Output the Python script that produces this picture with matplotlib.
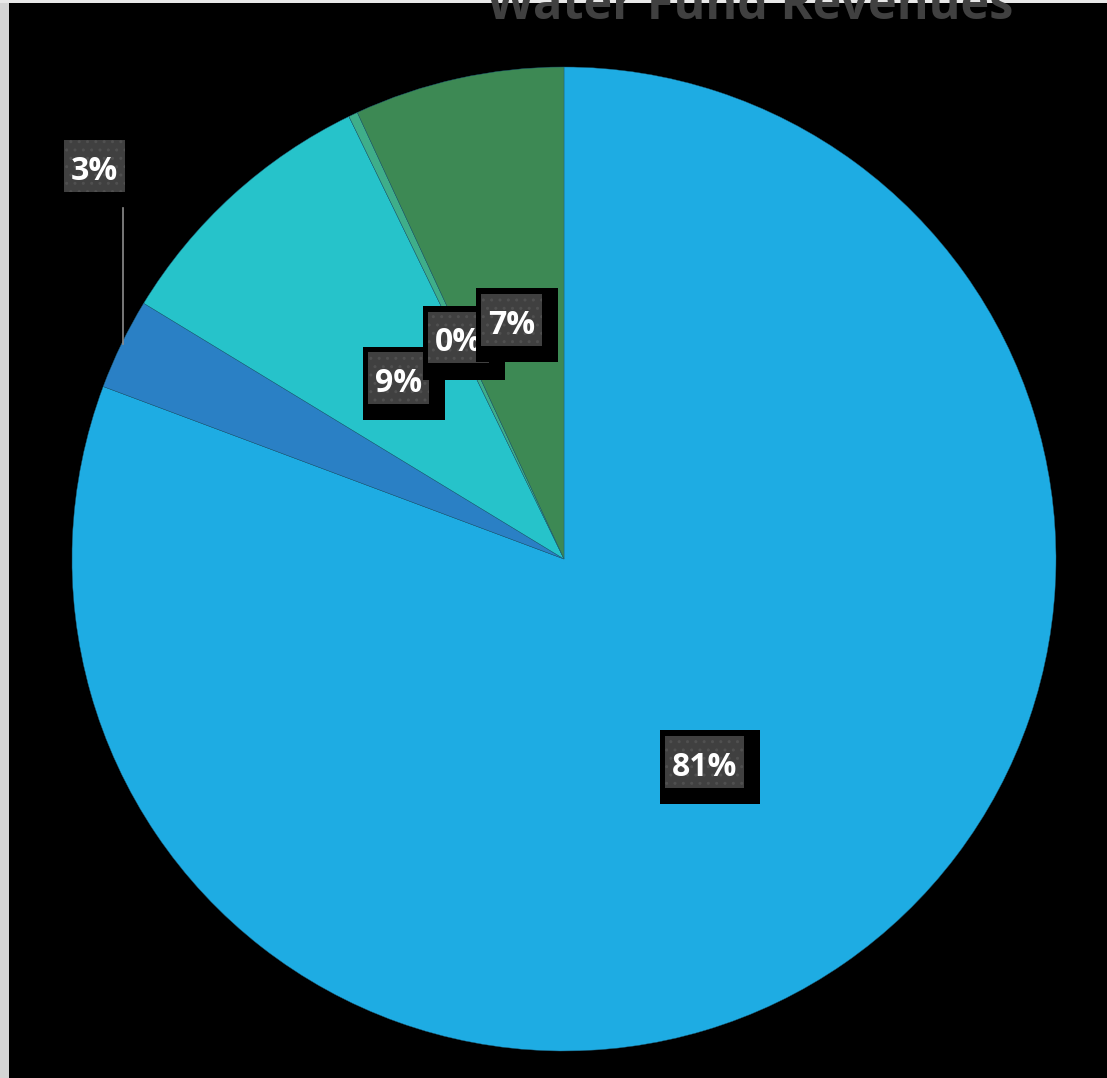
import matplotlib.pyplot as plt
from matplotlib.patches import Rectangle

# 收入构成（份额，%）
categories = ["Water Sales", "Connection Fees", "Other Charges", "Interest", "Transfers"]
shares = [80.7, 3.0, 9.1, 0.3, 6.9]
colors = ["#1eace3", "#2a80c5", "#26c3ca", "#3fae8a", "#3d8954"]
labels = [f"{round(s):d}%" for s in shares]

TITLE = "Water Fund Revenues"

# 画布按像素坐标布置（y 轴向上）
W, H = 1107, 1078
CENTER = (564, H - 559)
RADIUS = 492

# 标签框: (灰框 x0, y0_top, w, h), 黑色底框 (x0, y0_top, w, h) —— 像素坐标，y 自上而下
label_boxes = [
    ((665, 736, 79, 52), (660, 730, 100, 74)),
    ((64, 140, 61, 52), None),
    ((368, 352, 61, 52), (363, 347, 82, 73)),
    ((428, 312, 61, 51), (423, 306, 82, 74)),
    ((481, 294, 61, 52), (476, 288, 82, 74)),
]

fig = plt.figure(figsize=(W / 100, H / 100), dpi=100, facecolor="black")
ax = fig.add_axes([0, 0, 1, 1])
ax.set_facecolor("black")

ax.pie(shares, colors=colors, startangle=90, counterclock=False,
       center=CENTER, radius=RADIUS, frame=True,
       wedgeprops=dict(linewidth=0.3, edgecolor="#1d5f7a"))

# 左侧和顶部的浅灰边
ax.add_patch(Rectangle((0, 0), 9, H, facecolor="#d4d4d4", edgecolor="none", zorder=1))
ax.add_patch(Rectangle((0, H - 3), W, 3, facecolor="#e8e8e8", edgecolor="none", zorder=1))

# 3% 的引导线
ax.plot([122.5, 122.5], [H - 208, H - 344], color="#8c8c8c", lw=1.2, zorder=3)


def draw_label(text, gray, shadow, z):
    if shadow is not None:
        x, y, w, h = shadow
        ax.add_patch(Rectangle((x, H - y - h), w, h, facecolor="black",
                               edgecolor="none", zorder=z))
    x, y, w, h = gray
    ax.add_patch(Rectangle((x, H - y - h), w, h, facecolor="#404040",
                           edgecolor="none", zorder=z + 0.1))
    ax.add_patch(Rectangle((x, H - y - h), w, h, facecolor="none",
                           edgecolor="#505050", hatch="..", linewidth=0,
                           zorder=z + 0.2))
    ax.text(x + w / 2, H - y - h / 2 - 5, text, color="white", fontsize=23,
            fontweight="bold", family=["Open Sans", "DejaVu Sans"],
            ha="center", va="center", zorder=z + 0.3)


for i, (lab, (gray, shadow)) in enumerate(zip(labels, label_boxes)):
    draw_label(lab, gray, shadow, 4 + i)

ax.text(487, H - 19, TITLE, color="#404040", fontsize=35, fontweight="bold",
        family=["Open Sans", "DejaVu Sans"], ha="left", va="baseline", zorder=12)

ax.set_xlim(0, W)
ax.set_ylim(0, H)
ax.axis("off")

fig.savefig("out.png", dpi=100, facecolor="black")
